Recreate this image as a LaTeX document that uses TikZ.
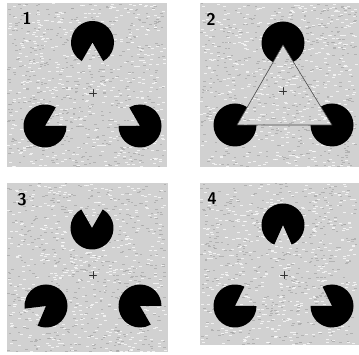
\documentclass[tikz,border=0pt]{standalone}
\usepackage{tikz}
\definecolor{Pfill}{HTML}{D1D1D1}
\definecolor{Pgrain}{HTML}{A6A6A6}
\definecolor{Tline}{HTML}{4A4A4A}

% black disc with a wedge cut out between angles #3 and #4
\newcommand\pacman[4]{%
  \fill[black] (#1,#2) -- ++(#4:21.5) arc[start angle=#4, end angle=#3+360, radius=21.5] -- cycle;}
% speckles over a box
\newcommand\grain[5]{%
  \foreach \k in {1,...,#5}{
    \pgfmathsetmacro\gx{#1+rnd*(#3-#1-4)}
    \pgfmathsetmacro\gy{#2+rnd*(#4-#2-1)}
    \fill[white,opacity=0.7] (\gx,\gy) rectangle ++(3,0.9);
    \pgfmathsetmacro\gx{#1+rnd*(#3-#1-4)}
    \pgfmathsetmacro\gy{#2+rnd*(#4-#2-1)}
    \fill[Pgrain,opacity=0.7] (\gx,\gy) rectangle ++(2.5,0.9);}}
% gray noisy panel
\newcommand\panel[4]{%
  \fill[Pfill] (#1,#2) rectangle (#3,#4);
  \grain{#1}{#2}{#3}{#4}{500}}
% fixation cross
\newcommand\fixcross[2]{%
  \draw[black!80,line width=0.6pt] (#1-3.5,#2) -- (#1+3.5,#2) (#1,#2-3.5) -- (#1,#2+3.5);}

\begin{document}
\begin{tikzpicture}[x=1pt,y=1pt,line join=round,line cap=round,
  num/.style={font=\sffamily\bfseries\fontsize{17}{17}\selectfont,inner sep=0pt}]
\pgfmathsetseed{4}
\useasboundingbox (0,0) rectangle (359,355);

% ---- the four noisy panels ----
\panel{7}{188}{167}{352}
\panel{200}{188}{359}{352}
\panel{7}{3}{168}{172}
\panel{200}{10}{359}{172}

% ---- 1: wedges aligned, triangle is seen ----
\pacman{92.5}{312.5}{240}{300}
\pacman{45}{229}{0}{60}
\pacman{140}{229}{120}{180}
\fixcross{93}{262}
\node[num] (n1) at (27,337) {1};

% ---- 2: the triangle drawn in ----
\foreach \x/\y in {283/312, 235/230, 332/230}
  \fill[black] (\x,\y) circle[radius=21.5];
\fill[Pfill] (283,310) -- (237,230) -- (332,230) -- cycle;
\begin{scope}
  \clip (283,310) -- (237,230) -- (332,230) -- cycle;
  \grain{237}{230}{332}{310}{160}
\end{scope}
\draw[Tline,line width=0.6pt] (283,310) -- (237,230) -- (332,230) -- cycle;
\fixcross{283}{264}
\node[num] (n2) at (211,336) {2};

% ---- 3: wedges turned outwards ----
\pacman{92}{127}{60}{120}
\pacman{46}{49}{187}{247}
\pacman{140}{49}{300}{360}
\fixcross{93}{80}
\node[num] (n3) at (22,155) {3};

% ---- 4: wedges slightly off ----
\pacman{283}{130}{246}{294}
\pacman{235}{49}{0}{64}
\pacman{332}{49}{116}{180}
\fixcross{284}{80}
\node[num] (n4) at (212,156) {4};
\end{tikzpicture}
\end{document}
